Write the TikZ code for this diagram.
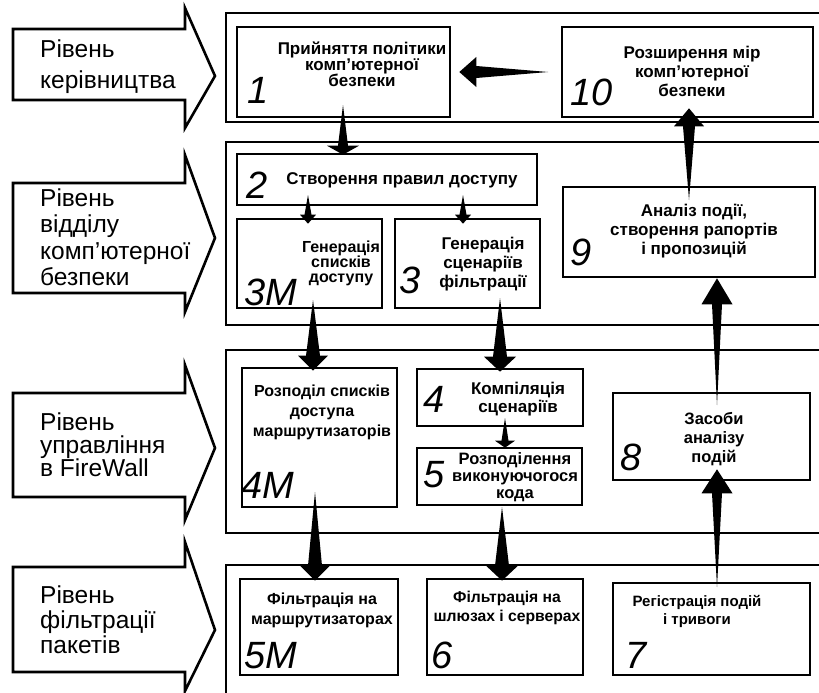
\documentclass[tikz,border=0pt]{standalone}
\usepackage{fontspec}
\setmainfont{Liberation Sans}
\usetikzlibrary{calc}
\tikzset{
  box/.style={draw, line width=2.6pt, rectangle, inner sep=0pt},
  frame/.style={line width=2.6pt},
  txt/.style 2 args={font=\bfseries\fontsize{#1}{#2}\selectfont, align=center, inner sep=0pt},
  num/.style={font=\itshape\fontsize{38}{38}\selectfont, inner sep=0pt, anchor=base west},
  lab/.style={font=\fontsize{24.5}{#1}\selectfont, align=left, inner sep=0pt, anchor=west},
  levshape/.style={draw, line width=2.6pt, line join=miter, fill=white},
}
\newcommand{\levarrowdraw}[5]{%
  \draw[levshape] (13,#1) -- (185,#1) -- (185,#3) -- (215,#5) -- (185,#4) -- (185,#2) -- (13,#2) -- cycle;}
% tail, tip, head length, shaft half width, head half width
\newcommand{\taperarrow}[5]{%
  \coordinate (tmpc) at ($(#2)!#3!(#1)$);
  \fill (#1) -- ($(tmpc)!#4!90:(#1)$) -- ($(tmpc)!#5!90:(#1)$) -- (#2)
     -- ($(tmpc)!#5!-90:(#1)$) -- ($(tmpc)!#4!-90:(#1)$) -- cycle;}
\begin{document}
\begin{tikzpicture}[x=1pt,y=-1pt]
\useasboundingbox (0,0) rectangle (819,693);
\fill[white] (0,0) rectangle (819,693);

% level frames (open to the right)
\draw[frame] (830,13) -- (226,13) -- (226,122) -- (830,122);
\draw[frame] (830,142) -- (226,142) -- (226,325) -- (830,325);
\draw[frame] (830,350) -- (226,350) -- (226,533) -- (830,533);
\draw[frame] (830,565) -- (226,565) -- (226,700);

% level arrows
\levarrowdraw{29}{100}{8}{128}{76}
\levarrowdraw{183}{293}{155}{312}{238}
\levarrowdraw{393}{497}{365}{520}{448}
\levarrowdraw{567}{672}{542}{691}{630}

\node[lab=31] (l1) at (40,67) {Рівень\\керівництва};
\node[lab=26.5] (l2) at (40,237) {Рівень\\відділу\\комп’ютерної\\безпеки};
\node[lab=23] (l3) at (40,445) {Рівень\\управління\\в FireWall};
\node[lab=25] (l4) at (40,620) {Рівень\\фільтрації\\пакетів};

% boxes
\node[box, minimum width=213pt, minimum height=90pt] (b1) at (343.5,72) {};
\node[box, minimum width=251pt, minimum height=90pt] (b10) at (687.5,72) {};
\node[box, minimum width=300pt, minimum height=51pt] (b2) at (387,179.5) {};
\node[box, minimum width=145pt, minimum height=89pt] (b3M) at (309.5,263.5) {};
\node[box, minimum width=145pt, minimum height=89pt] (b3) at (467.5,263.5) {};
\node[box, minimum width=252pt, minimum height=90pt] (b9) at (689,232) {};
\node[box, minimum width=155pt, minimum height=139pt] (b4M) at (319.5,437.5) {};
\node[box, minimum width=166pt, minimum height=57pt] (b4) at (500,397.5) {};
\node[box, minimum width=165pt, minimum height=57pt] (b5) at (499.5,476.5) {};
\node[box, minimum width=197pt, minimum height=87pt] (b8) at (711.5,436.5) {};
\node[box, minimum width=158pt, minimum height=96pt] (b5M) at (319,627) {};
\node[box, minimum width=156pt, minimum height=96pt] (b6) at (505,627) {};
\node[box, minimum width=197pt, minimum height=92pt] (b7) at (711.5,629) {};

% box texts
\node[txt={17}{16}] (t1) at (362,64) {Прийняття політики\\комп’ютерної\\безпеки};
\node[txt={17}{19}] (t10) at (692,71) {Розширення мір\\комп’ютерної\\безпеки};
\node[txt={17}{18}] (t2) at (402,180) {Створення правил доступу};
\node[txt={16}{15}] (t3M) at (341,263) {Генерація\\списків\\доступу};
\node[txt={17}{19}] (t3) at (483,264) {Генерація\\сценаріїв\\фільтрації};
\node[txt={17}{19}] (t9) at (694,231) {Аналіз події,\\створення рапортів\\і пропозицій};
\node[txt={16}{20}] (t4M) at (322,412) {Розподіл списків\\доступа\\маршрутизаторів};
\node[txt={17}{18}] (t4) at (518,399) {Компіляція\\сценаріїв};
\node[txt={16.5}{17}] (t5) at (515,477) {Розподілення\\виконуючогося\\кода};
\node[txt={16.5}{19}] (t8) at (714,439) {Засоби\\аналізу\\подій};
\node[txt={16}{20}] (t5M) at (322,610) {Фільтрація на\\маршрутизаторах};
\node[txt={15.7}{19}] (t6) at (507,608) {Фільтрація на\\шлюзах і серверах};
\node[txt={15}{18}] (t7) at (697,611) {Регістрація подій\\і тривоги};

% numbers
\node[num] (n1) at (247,103) {1};
\node[num] (n10) at (570,105) {10};
\node[num] (n2) at (246,198) {2};
\node[num] (n3M) at (244,305) {3M};
\node[num] (n3) at (399,293) {3};
\node[num] (n9) at (570,265) {9};
\node[num] (n4M) at (241,498) {4M};
\node[num] (n4) at (423,412) {4};
\node[num] (n5) at (423,487) {5};
\node[num] (n8) at (620,470) {8};
\node[num] (n5M) at (244,668) {5M};
\node[num] (n6) at (431,668) {6};
\node[num] (n7) at (625,668) {7};

% connector end points
\coordinate (a1s) at (343,105);  \coordinate (a1e) at ($(a1s |- b2.north)+(0,2)$);
\coordinate (a2s) at (548,72);   \coordinate (a2e) at ($(b1.east |- a2s)+(8,0)$);
\coordinate (a3s) at (689,200);  \coordinate (a3e) at ($(a3s |- b10.south)+(0,-10)$);
\coordinate (a4s) at (308,195);  \coordinate (a4e) at ($(a4s |- b3M.north)+(0,6)$);
\coordinate (a5s) at (463,195);  \coordinate (a5e) at ($(a5s |- b3.north)+(0,6)$);
\coordinate (a6s) at (313,300);  \coordinate (a6e) at ($(a6s |- b4M.north)+(0,4)$);
\coordinate (a7s) at (500,298);  \coordinate (a7e) at ($(a7s |- b4.north)+(0,4)$);
\coordinate (a8s) at (505,418);  \coordinate (a8e) at ($(a8s |- b5.north)+(0,1)$);
\coordinate (a9s) at (315,492);  \coordinate (a9e) at ($(a9s |- b5M.north)+(0,3)$);
\coordinate (a10s) at (502,507); \coordinate (a10e) at ($(a10s |- b6.north)+(0,3)$);
\coordinate (a11s) at (717,587); \coordinate (a11e) at ($(a11s |- b8.south)+(0,-12)$);
\coordinate (a12s) at (717,405); \coordinate (a12e) at (a12s |- b9.south);

% tapered connectors
\taperarrow{a1s}{a1e}{9pt}{5pt}{16pt}
\taperarrow{a2s}{a2e}{17pt}{6pt}{15pt}
\taperarrow{a3s}{a3e}{18pt}{6pt}{15pt}
\taperarrow{a4s}{a4e}{9pt}{3.5pt}{8pt}
\taperarrow{a5s}{a5e}{9pt}{3.5pt}{8pt}
\taperarrow{a6s}{a6e}{15pt}{7pt}{15pt}
\taperarrow{a7s}{a7e}{15pt}{7pt}{16pt}
\taperarrow{a8s}{a8e}{7pt}{3.5pt}{10pt}
\taperarrow{a9s}{a9e}{15pt}{7pt}{15pt}
\taperarrow{a10s}{a10e}{15pt}{7pt}{16pt}
\taperarrow{a11s}{a11e}{24pt}{5pt}{15.5pt}
\taperarrow{a12s}{a12e}{26pt}{5pt}{15.5pt}
\end{tikzpicture}
\end{document}
